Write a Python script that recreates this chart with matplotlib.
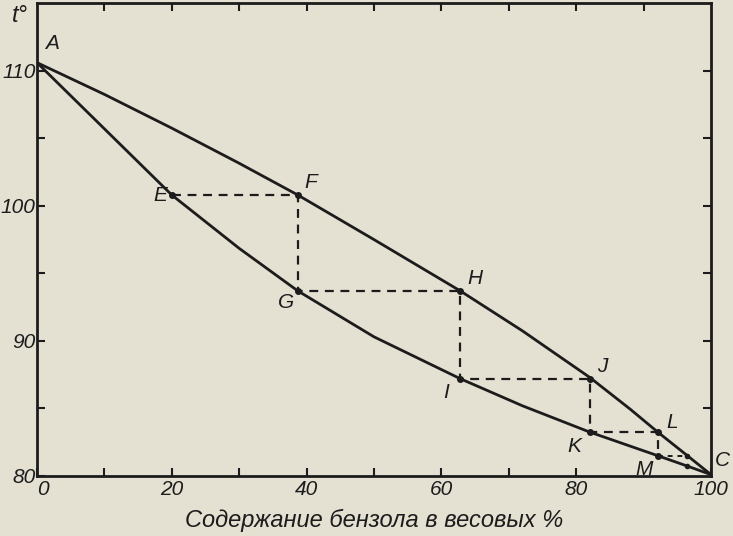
import matplotlib.pyplot as plt

# ---- данные ----
# верхняя кривая (пар)
vap_x = [0, 10, 20, 30, 38.7, 50, 62.8, 72, 82.0, 88, 92.1, 96.5, 100]
vap_t = [110.6, 108.25, 105.75, 103.15, 100.8, 97.5, 93.7, 90.75, 87.3, 84.95, 83.25, 81.5, 80.1]
# нижняя кривая (жидкость)
liq_x = [0, 5, 10, 15, 20, 30, 38.7, 50, 62.8, 72, 82.0, 92.1, 96.5, 100]
liq_t = [110.6, 108.15, 105.7, 103.25, 100.8, 96.85, 93.7, 90.3, 87.2, 85.2, 83.25, 81.5, 80.73, 80.1]

# ступеньки E-F-G-H-I-J-K-L-M
step_names = ["E", "F", "G", "H", "I", "J", "K", "L", "M"]
step_x = [20, 38.7, 38.7, 62.8, 62.8, 82.0, 82.0, 92.1, 92.1]
step_t = [100.8, 100.8, 93.7, 93.7, 87.2, 87.2, 83.25, 83.25, 81.5]
tail_x = [92.1, 96.5]
tail_t = [81.5, 81.5]
extra_x = [96.5, 96.5]
extra_t = [81.5, 80.73]

# смещения подписей (в точках)
label_off = {"E": (-13, -7), "F": (5, 2), "G": (-14, -15), "H": (5, 2),
             "I": (-12, -17), "J": (5, 2), "K": (-16, -17), "L": (6, 0),
             "M": (-16, -17)}

xticks = [0, 20, 40, 60, 80, 100]
yticks = [80, 90, 100, 110]

PAPER = "#e4e0d2"
INK = "#1c1c1c"

plt.rcParams['font.family'] = ["Liberation Sans", "DejaVu Sans"]
plt.rcParams['font.style'] = 'italic'

fig = plt.figure(figsize=(7.33, 5.36), dpi=100, facecolor=PAPER)
ax = fig.add_axes([0.0505, 0.112, 0.9195, 0.882], facecolor=PAPER)

ax.plot(vap_x, vap_t, color=INK, lw=2.0, solid_capstyle='round', solid_joinstyle='round')
ax.plot(liq_x, liq_t, color=INK, lw=2.0, solid_capstyle='round', solid_joinstyle='round')

ax.plot(step_x, step_t, color=INK, lw=1.6, ls=(0, (4, 3)))
ax.plot(tail_x, tail_t, color=INK, lw=1.4, ls=(0, (2.5, 2.5)))

ax.plot(step_x, step_t, 'o', color=INK, ms=4)
ax.plot(extra_x, extra_t, 'o', color=INK, ms=3)

for name, x, t in zip(step_names, step_x, step_t):
    ax.annotate(name, (x, t), xytext=label_off[name], textcoords='offset points',
                fontsize=15, color=INK, ha='left', va='bottom')
ax.annotate("A", (0, 110.6), xytext=(6, 7), textcoords='offset points',
            fontsize=15, color=INK, ha='left', va='bottom')
ax.annotate("C", (100, 80.1), xytext=(3, 3), textcoords='offset points',
            fontsize=15, color=INK, ha='left', va='bottom')

ax.set_xlim(0, 100)
ax.set_ylim(80, 115)
ax.set_xticks(xticks)
ax.set_yticks(yticks)
ax.set_xticks([10, 30, 50, 70], minor=True)
ax.set_yticks([85, 95, 105], minor=True)
ax.tick_params(axis='both', which='both', direction='in', length=6, width=1.5,
               colors=INK, labelsize=15)
ax.tick_params(axis='x', pad=3)
ax.tick_params(axis='y', pad=1)
ax.get_xticklabels()[0].set_ha('left')

# верх и правая рамка — свои засечки
top = ax.secondary_xaxis('top')
top.set_xticks(range(10, 100, 10))
top.tick_params(direction='in', length=6, width=1.5, labeltop=False, colors=INK)
right = ax.secondary_yaxis('right')
right.set_yticks([85, 90, 95, 100, 105, 110])
right.tick_params(direction='in', length=6, width=1.5, labelright=False, colors=INK)

for s in ax.spines.values():
    s.set_color(INK)
    s.set_linewidth(2.0)

ax.set_xlabel("Содержание бензола в весовых %", fontsize=17, color=INK, labelpad=7)
fig.text(0.027, 0.972, "t°", fontsize=17, color=INK, ha='center', va='center')

fig.savefig("out.png", dpi=100, facecolor=PAPER)
